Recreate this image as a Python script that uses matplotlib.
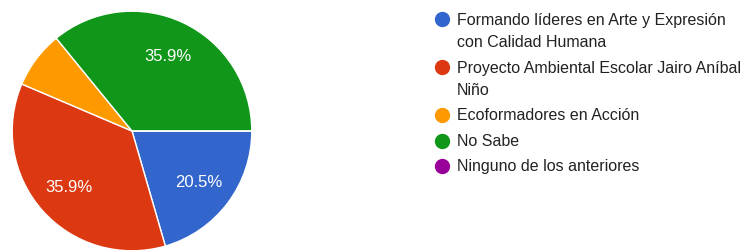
import textwrap
import matplotlib
matplotlib.use("Agg")
import matplotlib.pyplot as plt

plt.rcParams['font.family'] = ['Liberation Sans', 'DejaVu Sans']

# datos
labels = ['Formando líderes en Arte y Expresión con Calidad Humana',
          'Proyecto Ambiental Escolar Jairo Aníbal Niño',
          'Ecoformadores en Acción',
          'No Sabe',
          'Ninguno de los anteriores']
values = [8, 14, 3, 14, 0]
colors = ['#3366cc', '#dc3912', '#ff9900', '#109618', '#990099']

W, H = 749, 253
fig = plt.figure(figsize=(W / 100, H / 100), dpi=100)

# pastel
cx, cy, r = 132, 132, 121
ax = fig.add_axes([(cx - r) / W, (H - cy - r) / H, 2 * r / W, 2 * r / H])


def pct(p):
    return '%.1f%%' % p if p >= 10 else ''


ax.pie(values, colors=colors, startangle=0, counterclock=False,
       autopct=pct, pctdistance=0.7,
       wedgeprops=dict(edgecolor='white', linewidth=1),
       textprops=dict(color='white', fontsize=12))
ax.set_xlim(-1.01, 1.01)
ax.set_ylim(-1.01, 1.01)
ax.set_aspect('equal')
ax.axis('off')

# leyenda
mx, tx = 442, 457
y = 20
for lab, col in zip(labels, colors):
    lines = textwrap.wrap(lab, 39)
    fig.lines.append(plt.Line2D([mx / W], [1 - y / H], marker='o', markersize=10,
                                color=col, transform=fig.transFigure))
    for i, line in enumerate(lines):
        fig.text(tx / W, 1 - (y + i * 22.5) / H, line, fontsize=11.5,
                 color='#222222', va='center', ha='left')
    y += (len(lines) - 1) * 22.5 + 25.5

fig.savefig('out.png', dpi=100)
